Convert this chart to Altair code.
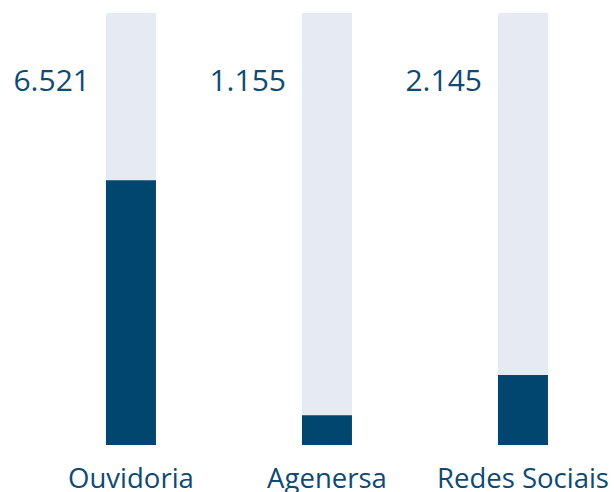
import altair as alt
import pandas as pd

categories = ["Ouvidoria", "Agenersa", "Redes Sociais"]
value_labels = ["6.521", "1.155", "2.145"]
fill_share = [0.613, 0.069, 0.162]
full_share = [1.0, 1.0, 1.0]

TEXT = "#0f4a73"
DARK = "#00466f"
LIGHT = "#e6eaf2"
FONT = "Open Sans"

df = pd.DataFrame({"cat": categories, "label": value_labels,
                   "share": fill_share, "full": full_share})

xscale = alt.Scale(paddingInner=0.5, paddingOuter=0.3163, align=0.661)
xenc = alt.X("cat:N", sort=categories, title=None, scale=xscale,
             axis=alt.Axis(labelAngle=0, labelFontSize=27.5, labelFont=FONT,
                           labelColor=TEXT, ticks=False, domain=False,
                           labelPadding=20, grid=False, labelOverlap=False,
                           labelFlush=False, labelLimit=300))
yscale = alt.Scale(domain=[0, 1])

base = alt.Chart(df)
bg = base.mark_bar(width=50, color=LIGHT).encode(
    x=xenc, y=alt.Y("full:Q", scale=yscale, axis=None))
fg = base.mark_bar(width=50, color=DARK).encode(
    x=xenc, y=alt.Y("share:Q", scale=yscale, axis=None))
txt = base.mark_text(align="right", baseline="alphabetic", dx=-41,
                     font=FONT, fontSize=30, color=TEXT).encode(
    x=xenc, y=alt.value(78), text="label:N")

chart = alt.layer(bg, fg, txt).properties(
    width=614, height=432,
    padding={"left": 0, "top": 13, "right": 0, "bottom": 47},
    autosize=alt.AutoSizeParams(type="none"),
    background="white",
).configure_view(stroke=None)

chart.save("out.html", embed_options={"renderer": "svg", "actions": False})
